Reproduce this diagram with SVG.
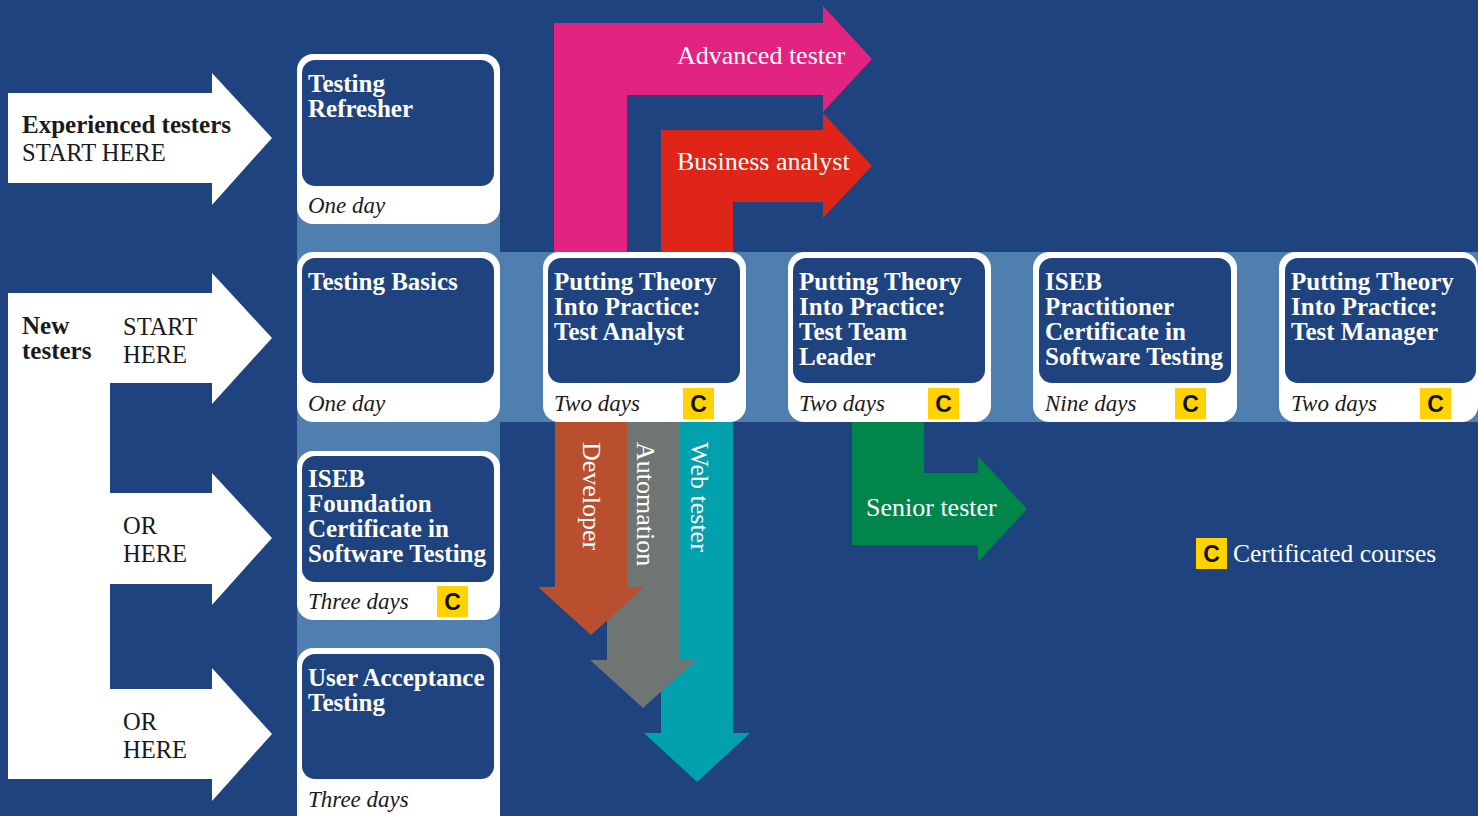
<svg xmlns="http://www.w3.org/2000/svg" width="1478" height="816" viewBox="0 0 1478 816">
<defs>
<style>
.bg{fill:#1E437E}
.band{fill:#4E7FAE}
.outer{fill:#FFFFFF}
.inner{fill:#1E437E}
.title{font-family:"Liberation Serif","Times New Roman",serif;font-weight:bold;font-size:25px;fill:#FFFFFF}
.dur{font-family:"Liberation Serif","Times New Roman",serif;font-style:italic;font-size:23px;fill:#1A1A1A}
.badge{fill:#FFD200}
.c{font-family:"Liberation Sans",Arial,sans-serif;font-weight:bold;font-size:23px;fill:#111111;text-anchor:middle}
.lbl{font-family:"Liberation Serif","Times New Roman",serif;font-size:26px;fill:#FFFFFF}
.start{font-family:"Liberation Serif","Times New Roman",serif;font-size:24.5px;fill:#1A1A1A}
.startb{font-family:"Liberation Serif","Times New Roman",serif;font-size:25px;font-weight:bold;fill:#1A1A1A}
.white{fill:#FFFFFF}
</style>
</defs>
<rect class="bg" x="0" y="0" width="1478" height="816"/>
<g id="bands">
<rect class="band" x="297" y="150" width="203" height="700"/>
<rect class="band" x="297" y="252" width="1200" height="170"/>
<rect class="bg" x="500" y="-60" width="1100" height="312" rx="18"/>
<rect class="bg" x="500" y="422" width="1100" height="500" rx="18"/>
</g>
<g id="connectors">
<path fill="#E2237F" d="M554,252 V23 H823 V6 L872,59 L823,112 V95 H627 V252 Z"/>
<path fill="#DE2518" d="M661,252 V130 H823 V113 L872,166 L823,218 V202 H733 V252 Z"/>
<path fill="#00A0AD" d="M661,422 H733 V733 H750 L697,782 L644,733 H661 Z"/>
<path fill="#6F7572" d="M607,422 H679 V660 H696 L643,708 L590,660 H607 Z"/>
<path fill="#BA4F2F" d="M555,422 H627 V587 H644 L591,635 L538,587 H555 Z"/>
<path fill="#00854A" d="M852,422 H924 V473 H978 V456 L1027,509 L978,562 V545 H852 Z"/>
<text class="lbl" x="677" y="64">Advanced tester</text>
<text class="lbl" x="677" y="170">Business analyst</text>
<text class="lbl" x="866" y="516">Senior tester</text>
<text class="lbl" transform="translate(583,442) rotate(90)">Developer</text>
<text class="lbl" transform="translate(637,442) rotate(90)">Automation</text>
<text class="lbl" transform="translate(691,442) rotate(90)">Web tester</text>
</g>
<g id="start-experienced">
<path class="white" d="M8,93 H212 V73 L272,138 L212,205 V183 H8 Z"/>
<text class="startb" x="22" y="133">Experienced testers</text>
<text class="start" x="22" y="161">START HERE</text>
</g>
<g id="start-new">
<rect class="white" x="8" y="293" width="102" height="486"/>
<path class="white" d="M109,293 H212 V273 L272,338 L212,404 V383 H109 Z"/>
<text class="startb" x="22" y="334">New</text>
<text class="startb" x="22" y="359">testers</text>
<text class="start" x="123" y="335">START</text>
<text class="start" x="123" y="363">HERE</text>
</g>
<g id="start-or-1">
<path class="white" d="M109,493 H212 V473 L272,538 L212,605 V584 H109 Z"/>
<text class="start" x="123" y="534">OR</text>
<text class="start" x="123" y="562">HERE</text>
</g>
<g id="start-or-2">
<path class="white" d="M109,689 H212 V668 L272,734 L212,801 V779 H109 Z"/>
<text class="start" x="123" y="730">OR</text>
<text class="start" x="123" y="758">HERE</text>
</g>
<g id="testing-refresher">
<rect class="outer" x="297" y="54" width="203" height="170" rx="16"/>
<rect class="inner" x="302" y="60" width="192" height="126" rx="13"/>
<text class="title" x="308" y="92">Testing</text>
<text class="title" x="308" y="117">Refresher</text>
<text class="dur" x="308" y="213">One day</text>
</g>
<g id="testing-basics">
<rect class="outer" x="297" y="252" width="203" height="170" rx="16"/>
<rect class="inner" x="302" y="258" width="192" height="125" rx="13"/>
<text class="title" x="308" y="290">Testing Basics</text>
<text class="dur" x="308" y="411">One day</text>
</g>
<g id="iseb-foundation">
<rect class="outer" x="297" y="451" width="203" height="169" rx="16"/>
<rect class="inner" x="302" y="456" width="192" height="126" rx="13"/>
<text class="title" x="308" y="487">ISEB</text>
<text class="title" x="308" y="512">Foundation</text>
<text class="title" x="308" y="537">Certificate in</text>
<text class="title" x="308" y="562">Software Testing</text>
<text class="dur" x="308" y="609">Three days</text>
<rect class="badge" x="437" y="586" width="31" height="31"/>
<text class="c" x="452.5" y="610">C</text>
</g>
<g id="user-acceptance">
<rect class="outer" x="297" y="648" width="203" height="190" rx="16"/>
<rect class="inner" x="302" y="654" width="192" height="125" rx="13"/>
<text class="title" x="308" y="686">User Acceptance</text>
<text class="title" x="308" y="711">Testing</text>
<text class="dur" x="308" y="807">Three days</text>
</g>
<g id="test-analyst">
<rect class="outer" x="543" y="252" width="203" height="170" rx="16"/>
<rect class="inner" x="548" y="258" width="192" height="125" rx="13"/>
<text class="title" x="554" y="290">Putting Theory</text>
<text class="title" x="554" y="315">Into Practice:</text>
<text class="title" x="554" y="340">Test Analyst</text>
<text class="dur" x="554" y="411">Two days</text>
<rect class="badge" x="683" y="388" width="31" height="31"/>
<text class="c" x="698.5" y="412">C</text>
</g>
<g id="test-team-leader">
<rect class="outer" x="788" y="252" width="203" height="170" rx="16"/>
<rect class="inner" x="793" y="258" width="192" height="125" rx="13"/>
<text class="title" x="799" y="290">Putting Theory</text>
<text class="title" x="799" y="315">Into Practice:</text>
<text class="title" x="799" y="340">Test Team</text>
<text class="title" x="799" y="365">Leader</text>
<text class="dur" x="799" y="411">Two days</text>
<rect class="badge" x="928" y="388" width="31" height="31"/>
<text class="c" x="943.5" y="412">C</text>
</g>
<g id="iseb-practitioner">
<rect class="outer" x="1033" y="252" width="204" height="170" rx="16"/>
<rect class="inner" x="1039" y="258" width="192" height="125" rx="13"/>
<text class="title" x="1045" y="290">ISEB</text>
<text class="title" x="1045" y="315">Practitioner</text>
<text class="title" x="1045" y="340">Certificate in</text>
<text class="title" x="1045" y="365">Software Testing</text>
<text class="dur" x="1045" y="411">Nine days</text>
<rect class="badge" x="1175" y="388" width="31" height="31"/>
<text class="c" x="1190.5" y="412">C</text>
</g>
<g id="test-manager">
<rect class="outer" x="1279" y="252" width="199" height="170" rx="16"/>
<rect class="inner" x="1285" y="258" width="191" height="125" rx="13"/>
<text class="title" x="1291" y="290">Putting Theory</text>
<text class="title" x="1291" y="315">Into Practice:</text>
<text class="title" x="1291" y="340">Test Manager</text>
<text class="dur" x="1291" y="411">Two days</text>
<rect class="badge" x="1420" y="388" width="31" height="31"/>
<text class="c" x="1435.5" y="412">C</text>
</g>
<g id="legend">
<rect class="badge" x="1196" y="538" width="31" height="31"/>
<text class="c" x="1211.5" y="562">C</text>
<text class="lbl" x="1233" y="562" style="font-size:25.5px">Certificated courses</text>
</g>
</svg>
